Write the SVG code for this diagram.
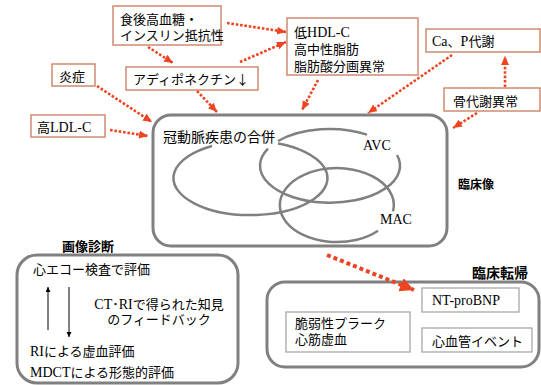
<svg xmlns="http://www.w3.org/2000/svg" width="541" height="385" viewBox="0 0 541 385">
<style>
text{font-family:"Liberation Serif","Noto Sans CJK JP",serif;font-size:13px;fill:#000}
.b{font-family:"Noto Sans CJK JP","Liberation Sans",sans-serif;font-weight:bold}
.L{font-size:14px}
.j{font-family:"Noto Sans CJK JP",sans-serif}
.tb{fill:#fff;stroke:#cf8b70;stroke-width:1.5}
.gb{fill:#fff;stroke:#a0a0a0;stroke-width:1.2}
.big{fill:#fff;stroke:#808080;stroke-width:3}
.ell{fill:none;stroke:#808080;stroke-width:2.5}
.dot{fill:none;stroke:#ee4422;stroke-width:2.6;stroke-dasharray:2.6 1.8;marker-end:url(#ah)}
.thin{fill:none;stroke:#000;stroke-width:1;marker-end:url(#sa)}
</style>
<defs>
<marker id="ah" markerUnits="userSpaceOnUse" markerWidth="10" markerHeight="10" refX="9" refY="4" orient="auto"><path d="M0,0 L9,4 L0,8 Z" fill="#ee4422"/></marker>
<marker id="ahb" markerUnits="userSpaceOnUse" markerWidth="16" markerHeight="16" refX="14" refY="7" orient="auto"><path d="M0,0 L14,7 L0,14 Z" fill="#ee4422"/></marker>
<marker id="sa" markerUnits="userSpaceOnUse" markerWidth="6" markerHeight="6" refX="5" refY="2.5" orient="auto"><path d="M0,0 L5,2.5 L0,5 Z" fill="#000"/></marker>
</defs>

<g id="main">
<rect class="big" x="153" y="115" width="294" height="131" rx="18"/>
<path class="ell" d="M278,143.5 A77,37 0 1 1 212,146"/>
<path class="ell" d="M397,155 A70,37 0 1 1 268,148.6"/>
<path class="ell" d="M278,141 A70,37 0 0 1 367,134.6"/>
<path class="ell" d="M378,230.7 A57,37 0 1 1 393,211.4"/>
<text x="163" y="142" style="font-size:14px">冠動脈疾患の合併</text>
<text x="363" y="150" style="font-size:14px">AVC</text>
<text x="380" y="224" class="L">MAC</text>
</g>
<g id="label-rinshozo"><text class="b" x="458" y="189" style="font-size:12px">臨床像</text></g>

<g id="n-shokugo">
<rect class="tb" x="113" y="6" width="108" height="39"/>
<text x="120" y="24">食後高血糖・</text>
<text x="120" y="40">インスリン抵抗性</text>
</g>
<g id="n-adipo">
<rect class="tb" x="126" y="67" width="132" height="23"/>
<text x="133" y="84">アディポネクチン<tspan class="j">↓</tspan></text>
</g>
<g id="n-ensho">
<rect class="tb" x="52" y="64" width="43" height="22"/>
<text x="59" y="81">炎症</text>
</g>
<g id="n-ldl">
<rect class="tb" x="31" y="115" width="74" height="22"/>
<text x="37" y="132">高<tspan class="L">LDL-C</tspan></text>
</g>
<g id="n-hdl">
<rect class="tb" x="287" y="18" width="131" height="57"/>
<text x="294" y="37">低<tspan class="L">HDL-C</tspan></text>
<text x="294" y="54">高中性脂肪</text>
<text x="294" y="71">脂肪酸分画異常</text>
</g>
<g id="n-cap">
<rect class="tb" x="426" y="29" width="114" height="23"/>
<text x="432" y="46"><tspan class="L">Ca</tspan>、<tspan class="L">P</tspan>代謝</text>
</g>
<g id="n-bone">
<rect class="tb" x="444" y="88" width="96" height="23"/>
<text x="453" y="106">骨代謝異常</text>
</g>

<g id="n-imaging">
<text class="b" x="62" y="251">画像診断</text>
<rect class="big" x="17" y="255" width="221" height="128" rx="20"/>
<text x="33" y="274">心エコー検査で評価</text>
<text x="159" y="309" text-anchor="middle"><tspan class="L">CT</tspan>･<tspan class="L">RI</tspan>で得られた知見</text>
<text x="159" y="324" text-anchor="middle">のフィードバック</text>
<text x="30" y="356"><tspan class="L">RI</tspan>による虚血評価</text>
<text x="30" y="377"><tspan class="L">MDCT</tspan>による形態的評価</text>
<path class="thin" d="M48,330 L48,287"/>
<path class="thin" d="M69,287 L69,337"/>
</g>

<g id="n-outcome">
<text class="b" x="472" y="278" style="font-size:14px">臨床転帰</text>
<rect class="big" x="267" y="282" width="272" height="85" rx="18"/>
</g>
<g id="n-ntprobnp">
<rect class="gb" x="422" y="288" width="97" height="24"/>
<text x="432" y="305" class="L">NT-proBNP</text>
</g>
<g id="n-plaque">
<rect class="gb" x="286" y="312" width="124" height="40"/>
<text x="295" y="328">脆弱性プラーク</text>
<text x="295" y="344">心筋虚血</text>
</g>
<g id="n-event">
<rect class="gb" x="422" y="328" width="110" height="24"/>
<text x="432" y="346">心血管イベント</text>
</g>

<g id="connectors">
<path class="dot" d="M148,47 L173,63"/>
<path class="dot" d="M227,23 L286,32"/>
<path class="dot" d="M240,62 L286,42"/>
<path class="dot" d="M197,91 L217,112"/>
<path class="dot" d="M97,86 L152,122"/>
<path class="dot" d="M110,130 L148,136"/>
<path class="dot" d="M318,80 L302,110"/>
<path class="dot" d="M452,55 L368,113"/>
<path class="dot" d="M477,113 L453,128"/>
<path class="dot" d="M505,87 L505,56"/>
<path d="M327,255 L414,290" fill="none" stroke="#ee4422" stroke-width="4" stroke-dasharray="4 3" marker-end="url(#ahb)"/>
</g>
</svg>
